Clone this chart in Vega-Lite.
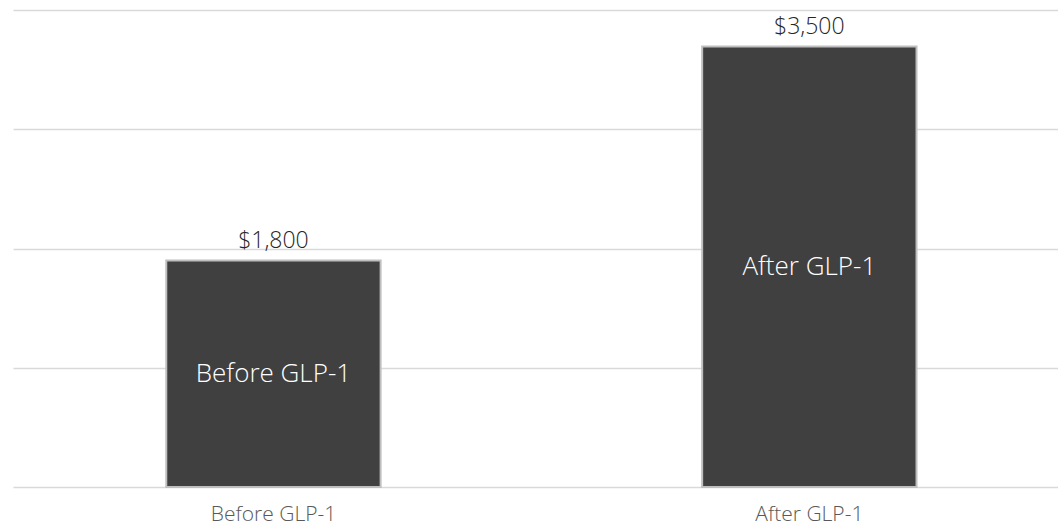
{
  "$schema": "https://vega.github.io/schema/vega-lite/v6.json",
  "width": 1045,
  "height": 477,
  "autosize": {"type": "none"},
  "padding": {"left": 13, "top": 10, "right": 0, "bottom": 39},
  "background": "white",
  "config": {"view": {"stroke": null}, "font": "Open Sans"},
  "data": {"values": [
    {"period": "Before GLP-1", "cost": 1800, "label": "$1,800"},
    {"period": "After GLP-1", "cost": 3500, "label": "$3,500"}
  ]},
  "resolve": {"scale": {"y": "independent"}},
  "layer": [
    {
      "layer": [
        {"mark": {"type": "bar", "color": "#404040", "stroke": "#bfbfbf", "strokeWidth": 2}},
        {"mark": {"type": "text", "baseline": "alphabetic", "dy": -12, "fontSize": 23, "fontWeight": 300, "color": "#262626", "font": "Open Sans"},
         "encoding": {"text": {"field": "label"}}}
      ],
      "encoding": {
        "x": {
          "field": "period", "type": "nominal", "sort": null,
          "scale": {"paddingInner": 0.6, "paddingOuter": 0.275, "align": 0.52},
          "axis": {"title": null, "domain": false, "ticks": false, "labelAngle": 0,
                   "labelFont": "Open Sans", "labelFontSize": 21, "labelFontWeight": 300, "labelColor": "#595959",
                   "labelBaseline": "alphabetic", "labelPadding": 33}
        },
        "y": {
          "field": "cost", "type": "quantitative",
          "scale": {"domain": [0, 3790], "nice": false},
          "axis": {"title": null, "labels": false, "ticks": false, "domain": false,
                   "values": [0, 947.5, 1895, 2842.5, 3790],
                   "gridColor": "#d9d9d9", "gridWidth": 1.5}
        }
      }
    },
    {
      "mark": {"type": "text", "baseline": "middle", "fontSize": 26, "fontWeight": 300, "color": "#ffffff", "font": "Open Sans"},
      "encoding": {
        "x": {"field": "period", "type": "nominal", "sort": null},
        "y": {"field": "cost", "type": "quantitative",
              "scale": {"domain": [0, 7580], "nice": false}, "axis": null},
        "text": {"field": "period"}
      }
    }
  ]
}
